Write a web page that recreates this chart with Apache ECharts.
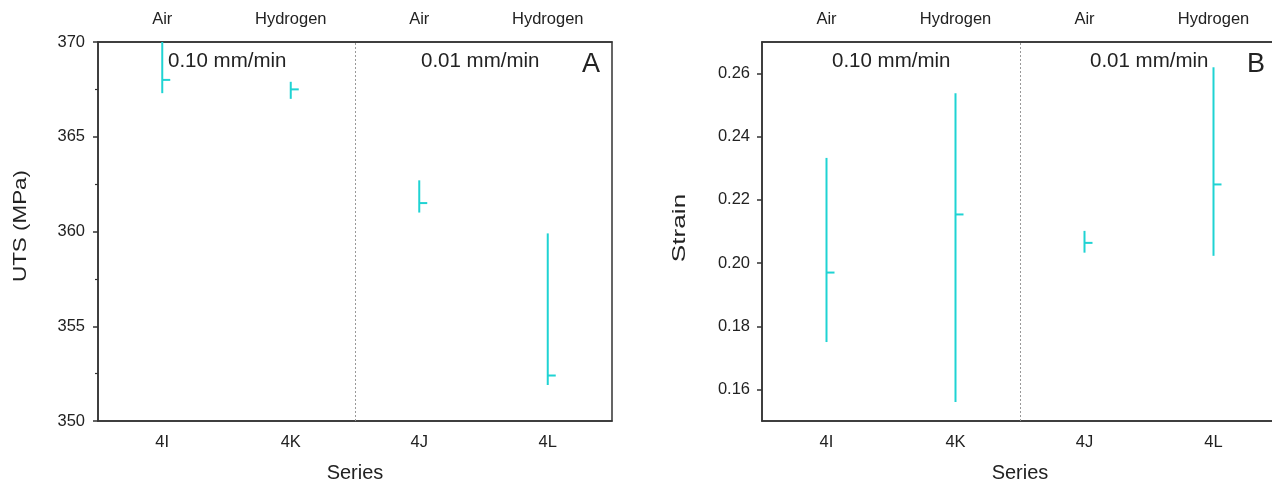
<!DOCTYPE html>
<html>
<head>
<meta charset="utf-8">
<script src="https://cdn.jsdelivr.net/npm/echarts@6/dist/echarts.min.js"></script>
<style>
  html, body { margin: 0; padding: 0; background: #fff; }
  #chart { width: 1272px; height: 484px; }
</style>
</head>
<body>
<div id="chart"></div>
<script>
// Specimen series (bottom axis) and test environment (top axis)
const seriesNames = ['4I', '4K', '4J', '4L'];
const environments = ['Air', 'Hydrogen', 'Air', 'Hydrogen'];

// Ultimate tensile strength (MPa): lower end, upper end, mean
const utsLow  = [367.3, 367.0, 361.0, 351.9];
const utsHigh = [370.0, 367.9, 362.7, 359.9];
const utsMean = [368.0, 367.5, 361.5, 352.4];

// Strain at failure: lower end, upper end, mean
const strainLow  = [0.175, 0.156, 0.2033, 0.2023];
const strainHigh = [0.2333, 0.2538, 0.2102, 0.262];
const strainMean = [0.197, 0.2154, 0.2064, 0.2249];

// Axis tick values
const utsTicks = [350, 355, 360, 365, 370];
const strainTicks = [0.16, 0.18, 0.20, 0.22, 0.24, 0.26];
const strainMinorTicks = [0.17, 0.19, 0.21, 0.23, 0.25];

// Titles and panel annotations
const axisTitles = ['UTS (MPa)', 'Strain', 'Series'];
const rateLabels = ['0.10 mm/min', '0.01 mm/min'];
const panelLetters = ['A', 'B'];

const BAR = '#1fd3d3';
const AXIS = '#333';
const TEXT = '#222';
const FONT = '"Liberation Sans", Arial, sans-serif';
const TICK_FONT = 16.5;

function rows(lo, hi, mean) {
  return seriesNames.map((_, i) => [i, lo[i], hi[i], mean[i]]);
}

// Vertical range line with a short mean marker on its right
function renderRange(params, api) {
  const top = api.coord([api.value(0), api.value(2)]);
  const bot = api.coord([api.value(0), api.value(1)]);
  const mid = api.coord([api.value(0), api.value(3)]);
  const style = { stroke: BAR, lineWidth: 2, lineCap: 'butt' };
  return {
    type: 'group',
    children: [
      { type: 'line', shape: { x1: top[0], y1: top[1], x2: bot[0], y2: bot[1] }, style },
      { type: 'line', shape: { x1: mid[0], y1: mid[1], x2: mid[0] + 8, y2: mid[1] }, style }
    ]
  };
}

function bottomAxis(gridIndex) {
  return {
    type: 'category', gridIndex, position: 'bottom', data: seriesNames,
    name: axisTitles[2], nameLocation: 'middle', nameGap: 42,
    nameTextStyle: { fontSize: 20, color: TEXT, fontFamily: FONT },
    axisLine: { lineStyle: { color: AXIS, width: 1.5 } },
    axisTick: { alignWithLabel: true, length: 5, lineStyle: { color: AXIS, width: 1.5 } },
    axisLabel: { fontSize: TICK_FONT, color: TEXT, fontFamily: FONT, margin: 13 },
    splitLine: { show: false }
  };
}

function topAxis(gridIndex) {
  return {
    type: 'category', gridIndex, position: 'top', data: environments,
    axisLine: { lineStyle: { color: AXIS, width: 1.5 } },
    axisTick: { alignWithLabel: true, length: 5, lineStyle: { color: AXIS, width: 1.5 } },
    axisLabel: { fontSize: TICK_FONT, color: TEXT, fontFamily: FONT, margin: 14 },
    splitLine: { show: false }
  };
}

function dividerAxis(gridIndex) {
  return { type: 'value', gridIndex, min: 0, max: 4, show: false, position: 'bottom' };
}

function divider(xAxisIndex, yAxisIndex) {
  return {
    type: 'line', xAxisIndex, yAxisIndex, data: [], silent: true,
    markLine: {
      silent: true, symbol: 'none', label: { show: false },
      lineStyle: { color: '#999', type: [2, 2], width: 1 },
      data: [{ xAxis: 2 }]
    }
  };
}

function sideTitle(text, x, y, stretch) {
  return {
    type: 'text', x, y, rotation: Math.PI / 2, scaleX: stretch,
    style: { text, fontSize: 19, fill: TEXT, fontFamily: FONT, align: 'center', verticalAlign: 'middle' }
  };
}

function note(text, left, top, size) {
  return { type: 'text', left, top, style: { text, fontSize: size, fill: TEXT, fontFamily: FONT } };
}

const gridBase = {
  top: 42, height: 379, show: true, borderColor: AXIS, borderWidth: 1.5,
  backgroundColor: 'transparent', containLabel: false, outerBoundsMode: 'none'
};

const option = {
  animation: false,
  backgroundColor: '#fff',
  textStyle: { fontFamily: FONT },
  grid: [
    Object.assign({ left: 98, width: 514 }, gridBase),
    Object.assign({ left: 762, width: 516 }, gridBase)
  ],
  xAxis: [
    bottomAxis(0), topAxis(0), dividerAxis(0),
    bottomAxis(1), topAxis(1), dividerAxis(1)
  ],
  yAxis: [
    {
      type: 'value', gridIndex: 0, min: utsTicks[0], max: utsTicks[utsTicks.length - 1], interval: 5,
      axisLine: { show: true, lineStyle: { color: AXIS, width: 1.5 } },
      axisTick: { show: true, length: 5, lineStyle: { color: AXIS, width: 1.5 } },
      minorTick: { show: true, splitNumber: 2, length: 3, lineStyle: { color: AXIS, width: 1.2 } },
      axisLabel: { fontSize: TICK_FONT, color: TEXT, fontFamily: FONT, margin: 13 },
      splitLine: { show: false }
    },
    {
      type: 'value', gridIndex: 1, min: 0.15, max: 0.27,
      axisLine: { show: true, lineStyle: { color: AXIS, width: 1.5 } },
      axisTick: { show: true, length: 5, customValues: strainTicks, lineStyle: { color: AXIS, width: 1.5 } },
      axisLabel: {
        fontSize: TICK_FONT, color: TEXT, fontFamily: FONT, margin: 12,
        customValues: strainTicks, formatter: v => v.toFixed(2)
      },
      splitLine: { show: false }
    },
    {
      type: 'value', gridIndex: 1, min: 0.15, max: 0.27,
      axisLine: { show: false },
      axisTick: { show: true, length: 3, customValues: strainMinorTicks, lineStyle: { color: AXIS, width: 1.2 } },
      axisLabel: { show: false, customValues: strainMinorTicks },
      splitLine: { show: false }
    }
  ],
  series: [
    {
      type: 'custom', xAxisIndex: 0, yAxisIndex: 0, clip: true,
      renderItem: renderRange, encode: { x: 0, y: [1, 2, 3] },
      data: rows(utsLow, utsHigh, utsMean)
    },
    {
      type: 'custom', xAxisIndex: 3, yAxisIndex: 1, clip: true,
      renderItem: renderRange, encode: { x: 0, y: [1, 2, 3] },
      data: rows(strainLow, strainHigh, strainMean)
    },
    divider(2, 0),
    divider(5, 1)
  ],
  graphic: [
    sideTitle(axisTitles[0], 21, 226, 1.18),
    sideTitle(axisTitles[1], 680, 228, 1.38),
    note(rateLabels[0], 168, 51, 20.5),
    note(rateLabels[1], 421, 51, 20.5),
    note(panelLetters[0], 582, 51, 27),
    note(rateLabels[0], 832, 51, 20.5),
    note(rateLabels[1], 1090, 51, 20.5),
    note(panelLetters[1], 1247, 51, 27)
  ]
};

const chart = echarts.init(document.getElementById('chart'), null, { renderer: 'canvas' });
chart.setOption(option);
</script>
</body>
</html>
